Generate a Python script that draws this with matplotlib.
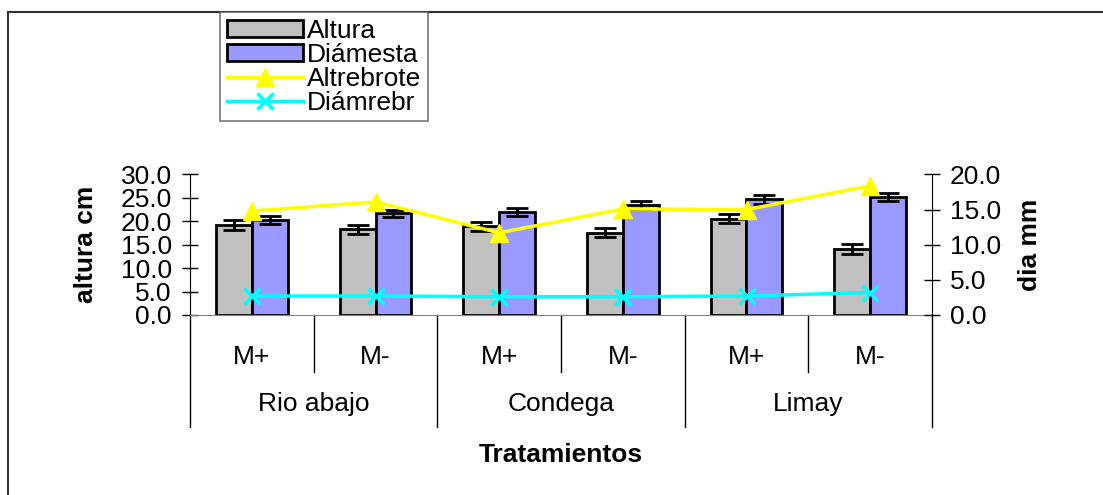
import numpy as np
import matplotlib.pyplot as plt
from matplotlib.lines import Line2D
from matplotlib.ticker import FormatStrFormatter
import matplotlib.transforms as mtransforms

plt.rcParams['font.family'] = ['Liberation Sans', 'DejaVu Sans']

# datos
tratamientos = ['M+', 'M-', 'M+', 'M-', 'M+', 'M-']
localidades = ['Rio abajo', 'Condega', 'Limay']
altura = [19.2, 18.3, 18.9, 17.6, 20.6, 14.1]
altura_err = [1.0, 1.0, 0.95, 1.0, 1.0, 1.0]
diamesta = [20.3, 21.7, 22.0, 23.5, 24.7, 25.2]
diamesta_err = [0.9, 0.8, 0.85, 0.9, 0.9, 0.85]
altrebrote = [14.8, 16.1, 11.7, 15.1, 15.0, 18.4]
diamrebr = [2.7, 2.7, 2.6, 2.6, 2.7, 3.2]

W, H = 1103, 495
FS = 19
fig = plt.figure(figsize=(11.03, 4.95), dpi=100)
ah = 140.5
ax = fig.add_axes([190 / W, 1 - 315 / H, 742 / W, ah / H])
ax2 = ax.twinx()

x = np.arange(len(tratamientos))
w = 0.29
ax.bar(x - w / 2, altura, w, color='#C0C0C0', edgecolor='black', linewidth=2, zorder=2)
ax.bar(x + w / 2, diamesta, w, color='#9999FF', edgecolor='black', linewidth=2, zorder=2)
ax.errorbar(x - w / 2, altura, yerr=altura_err, fmt='none', ecolor='black',
            elinewidth=2, capsize=8, capthick=2, zorder=3)
ax.errorbar(x + w / 2, diamesta, yerr=diamesta_err, fmt='none', ecolor='black',
            elinewidth=2, capsize=8, capthick=2, zorder=3)

ax2.plot(x, altrebrote, color='#FFFF00', lw=2.5, marker='^', ms=13, zorder=4)
ax2.plot(x, diamrebr, color='#00FFFF', lw=2.5, marker='x', ms=12, mew=2.5, zorder=4)

ax.set_xlim(-0.5, 5.5)
ax.set_ylim(0, 30)
ax2.set_ylim(0, 20)
ax.set_yticks(np.arange(0, 31, 5))
ax2.set_yticks(np.arange(0, 21, 5))
for a in (ax, ax2):
    a.yaxis.set_major_formatter(FormatStrFormatter('%.1f'))
    a.tick_params(axis='y', direction='inout', length=12, width=1, labelsize=FS, pad=7)
    for s in a.spines.values():
        s.set_visible(False)
ax.spines['left'].set_visible(True)
ax2.spines['right'].set_visible(True)
ax.spines['bottom'].set_visible(True)
ax.spines['bottom'].set_color('#808080')

# eje de categorias en dos niveles
ax.set_xticks([])
trans = mtransforms.blended_transform_factory(ax.transData, ax.transAxes)
for i, t in enumerate(tratamientos):
    ax.text(x[i], -42 / ah, t, transform=trans, ha='center', va='center', fontsize=FS)
short_len = 57 / ah
long_len = 112 / ah
for b in [0.5, 2.5, 4.5]:
    ax.plot([b, b], [0, -short_len], color='black', lw=1, transform=trans, clip_on=False)
for b in [-0.5, 1.5, 3.5, 5.5]:
    ax.plot([b, b], [0, -long_len], color='black', lw=1, transform=trans, clip_on=False)
for i, loc in enumerate(localidades):
    ax.text(2 * i + 0.5, -89 / ah, loc, transform=trans, ha='center', va='center', fontsize=FS)

ax.text(0.5, -140 / ah, 'Tratamientos', transform=ax.transAxes, ha='center',
        va='center', fontsize=FS, fontweight='bold')
ax.set_ylabel('altura cm', fontsize=FS, fontweight='bold')
ax.yaxis.set_label_coords(-0.124, 0.5)
ax2.set_ylabel('dia mm', fontsize=FS, fontweight='bold')
ax2.yaxis.set_label_coords(1.116, 0.5)

# marco del area del grafico
fig.add_artist(Line2D([8 / W, 1], [1 - 12 / H, 1 - 12 / H], color='#333333', lw=1.5))
fig.add_artist(Line2D([8 / W, 8 / W], [0, 1 - 12 / H], color='#333333', lw=1.5))

handles = [
    plt.Rectangle((0, 0), 1, 1, facecolor='#C0C0C0', edgecolor='black', lw=2),
    plt.Rectangle((0, 0), 1, 1, facecolor='#9999FF', edgecolor='black', lw=2),
    Line2D([], [], color='#FFFF00', lw=2.5, marker='^', ms=13),
    Line2D([], [], color='#00FFFF', lw=2.5, marker='x', ms=12, mew=2.5),
]
leg = fig.legend(handles, ['Altura', 'Diámesta', 'Altrebrote', 'Diámrebr'],
                 loc='upper left', bbox_to_anchor=(220 / W, 1 - 12 / H),
                 borderaxespad=0, fontsize=FS, frameon=True, fancybox=False,
                 labelspacing=0.0, handlelength=2.9, handleheight=0.65,
                 handletextpad=0.15, borderpad=0.25)
leg.get_frame().set_edgecolor('#555555')
leg.get_frame().set_linewidth(1.2)

fig.savefig('out.png', dpi=100)
